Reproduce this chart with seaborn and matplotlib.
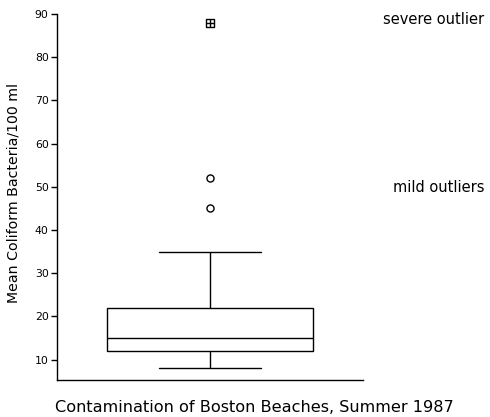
import matplotlib
matplotlib.use("Agg")
import matplotlib.pyplot as plt
import seaborn as sns
import pandas as pd

# Five-number summary of mean coliform counts (whisker ends, quartiles, median)
summary_values = [8, 12, 15, 22, 35]
mild_outliers = [45, 52]
severe_outliers = [88]
y_ticks = [10, 20, 30, 40, 50, 60, 70, 80, 90]

sns.set_style("ticks")
plt.rcParams["font.family"] = ["DejaVu Sans"]
plt.rcParams["text.color"] = "black"
plt.rcParams["axes.labelcolor"] = "black"
plt.rcParams["ytick.color"] = "black"

fig = plt.figure(figsize=(4.9, 4.17), dpi=100)
ax = fig.add_axes([57 / 490, 1 - 380 / 417, 306 / 490, 366 / 417])

box_df = pd.DataFrame({"x": ["beaches"] * len(summary_values), "count": summary_values})
sns.boxplot(
    data=box_df, x="x", y="count", ax=ax, width=0.67, whis=(0, 100),
    showfliers=False, color="white", linecolor="black", linewidth=1.0,
)

mild_df = pd.DataFrame({"x": ["beaches"] * len(mild_outliers), "count": mild_outliers})
sns.scatterplot(data=mild_df, x="x", y="count", ax=ax, marker="o", s=26,
                facecolor="white", edgecolor="black", linewidth=1.0, zorder=5)
severe_df = pd.DataFrame({"x": ["beaches"] * len(severe_outliers), "count": severe_outliers})
sns.scatterplot(data=severe_df, x="x", y="count", ax=ax, marker="s", s=26,
                facecolor="white", edgecolor="black", linewidth=1.0, zorder=5)
sns.scatterplot(data=severe_df, x="x", y="count", ax=ax, marker="+", s=26,
                color="black", linewidth=1.0, zorder=6)

ax.set_xlim(-0.5, 0.5)
ax.set_ylim(5.3, 90)
ax.set_yticks(y_ticks)
ax.set_xticks([])
ax.tick_params(axis="y", labelsize=7.8, length=4, width=1, pad=2, colors="black")
ax.set_xlabel("")
ax.set_ylabel("Mean Coliform Bacteria/100 ml", fontsize=10.2)
ax.yaxis.set_label_coords(-0.12, 0.511)
sns.despine(ax=ax)
for side in ("left", "bottom"):
    ax.spines[side].set_linewidth(1)
    ax.spines[side].set_color("black")

fig.text(484 / 490, 1 - 19 / 417, "severe outlier", ha="right", va="center", fontsize=10.5)
fig.text(484 / 490, 1 - 187 / 417, "mild outliers", ha="right", va="center", fontsize=10.5)
fig.text(254 / 490, 1 - 407 / 417, "Contamination of Boston Beaches, Summer 1987",
         ha="center", va="center", fontsize=11.6)

fig.savefig("out.png", dpi=100)
